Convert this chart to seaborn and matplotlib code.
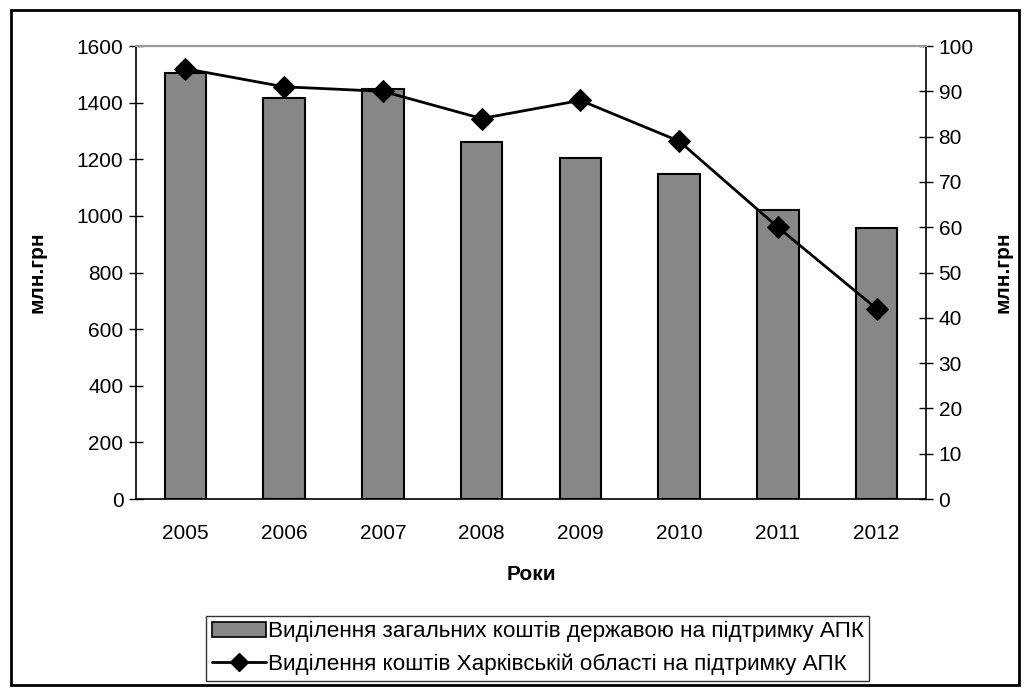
import numpy as np
import pandas as pd
import matplotlib.pyplot as plt
import matplotlib.patches as mpatches
import matplotlib.lines as mlines
import seaborn as sns

years = ['2005', '2006', '2007', '2008', '2009', '2010', '2011', '2012']
total_state = [1505, 1417, 1448, 1262, 1205, 1149, 1022, 959]
kharkiv = [95, 91, 90, 84, 88, 79, 60, 42]

label_bar = 'Виділення загальних коштів державою на підтримку АПК'
label_line = 'Виділення коштів Харківській області на підтримку АПК'

sns.set_theme(style='white')
plt.rcParams['font.family'] = ['Liberation Sans', 'DejaVu Sans']
plt.rcParams['text.color'] = 'black'
plt.rcParams['axes.labelcolor'] = 'black'
plt.rcParams['xtick.color'] = 'black'
plt.rcParams['ytick.color'] = 'black'

df = pd.DataFrame({'year': years, 'total': total_state, 'region': kharkiv})

fig = plt.figure(figsize=(10.27, 6.88), dpi=100)
ax = fig.add_axes([0.1324, 0.2747, 0.7693, 0.6584])

sns.barplot(data=df, x='year', y='total', ax=ax, color='#878787',
            width=0.42, edgecolor='black', linewidth=1.5, saturation=1)
ax.set_ylim(0, 1600)
ax.set_yticks(range(0, 1601, 200))
ax.set_xlim(-0.5, 7.5)
ax.set_xticks(np.arange(-0.5, 8, 1), minor=True)
ax.set_xticks(range(8))
ax.set_xticklabels(years)
ax.tick_params(axis='x', which='major', length=0, pad=18, labelsize=15)
ax.tick_params(axis='x', which='minor', length=8, width=1, direction='inout')
ax.tick_params(axis='y', length=10, width=1, direction='inout', labelsize=15, pad=4)
ax.set_xlabel('Роки', fontsize=15, fontweight='bold', labelpad=16)
ax.set_ylabel('млн.грн', fontsize=15, fontweight='bold', labelpad=22)

ax2 = ax.twinx()
sns.lineplot(x=np.arange(8), y=kharkiv, ax=ax2, color='black', linewidth=2,
             marker='D', markersize=11, markeredgecolor='black')
ax2.set_ylim(0, 100)
ax2.set_yticks(range(0, 101, 10))
ax2.tick_params(axis='y', length=10, width=1, direction='inout', labelsize=15, pad=4)
ax2.set_ylabel('млн.грн', fontsize=15, fontweight='bold', labelpad=14)

for a in (ax, ax2):
    for side in ('left', 'right', 'bottom'):
        a.spines[side].set_color('black')
        a.spines[side].set_linewidth(1.2)
    a.spines['top'].set_color('#999999')
    a.spines['top'].set_linewidth(1.5)
ax.spines['right'].set_visible(False)
ax2.spines['left'].set_visible(False)
ax2.spines['bottom'].set_visible(False)

h_bar = mpatches.Patch(facecolor='#878787', edgecolor='black', linewidth=1.2, label=label_bar)
h_line = mlines.Line2D([], [], color='black', linewidth=2, marker='D', markersize=9, label=label_line)
leg = fig.legend(handles=[h_bar, h_line], loc='lower center', bbox_to_anchor=(0.5235, 0.004),
                 fontsize=16.2, frameon=True, fancybox=False, edgecolor='black',
                 handlelength=2.4, handletextpad=0.1, borderpad=0.25, labelspacing=0.5,
                 borderaxespad=0.2)
leg.get_frame().set_linewidth(1.0)

border = mpatches.Rectangle((0.0105, 0.004), 0.982, 0.981, transform=fig.transFigure,
                            fill=False, edgecolor='black', linewidth=2)
fig.add_artist(border)

fig.savefig('out.png', dpi=100)
